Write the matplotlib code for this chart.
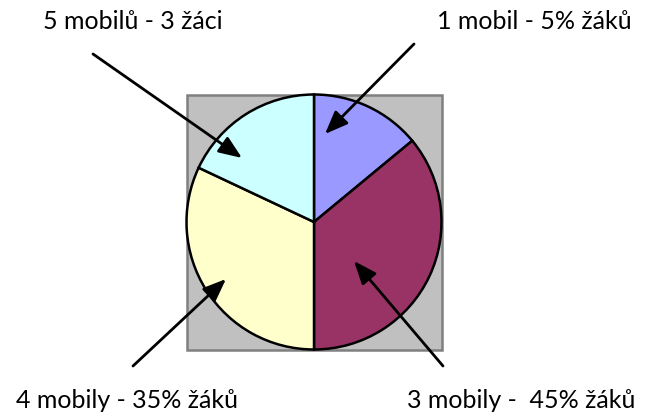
import matplotlib
matplotlib.use("Agg")
import matplotlib.pyplot as plt
from matplotlib.patches import Rectangle

# Data
categories = ["1 mobil", "3 mobily", "4 mobily", "5 mobilů"]
shares = [14, 36, 32, 18]
colors = ["#9999FF", "#993366", "#FFFFCC", "#CCFFFF"]
labels = ["1 mobil - 5% žáků", "3 mobily -  45% žáků", "4 mobily - 35% žáků", "5 mobilů - 3 žáci"]

W, H = 646, 416
fig = plt.figure(figsize=(W / 100, H / 100), dpi=100)
ax = fig.add_axes([0, 0, 1, 1])

def Y(y):
    return H - y

cx, cy, r = 314, 222, 127.5

ax.add_patch(Rectangle((cx - r, Y(cy) - r), 2 * r, 2 * r, facecolor="#C0C0C0",
                       edgecolor="#808080", linewidth=1.8, zorder=0))
ax.pie(shares, colors=colors, startangle=90, counterclock=False,
       center=(cx, Y(cy)), radius=r,
       wedgeprops=dict(edgecolor="black", linewidth=1.8))

ax.set_xlim(0, W)
ax.set_ylim(0, H)
ax.set_aspect("equal")
ax.axis("off")

font = dict(family=["Lato", "DejaVu Sans"], fontsize=18, color="black")

# label text positions (image coords: center x, baseline y)
text_pos = [(534.5, 29), (521.5, 408), (127, 408), (133, 29)]
# arrows (tail -> tip), image coords
arrows = [((414, 44), (325, 134)),
          ((443, 366), (354, 261)),
          ((133, 366), (226, 279)),
          ((93, 54), (242, 158))]

for lab, (tx, ty), ((x0, y0), (x1, y1)) in zip(labels, text_pos, arrows):
    ax.text(tx, Y(ty), lab, ha="center", va="baseline", **font)
    ax.annotate("", xy=(x1, Y(y1)), xytext=(x0, Y(y0)),
                arrowprops=dict(arrowstyle="-|>,head_length=1.0,head_width=0.4",
                                mutation_scale=14, color="black", lw=2.0,
                                shrinkA=0, shrinkB=0))

fig.savefig("out.png", dpi=100)
